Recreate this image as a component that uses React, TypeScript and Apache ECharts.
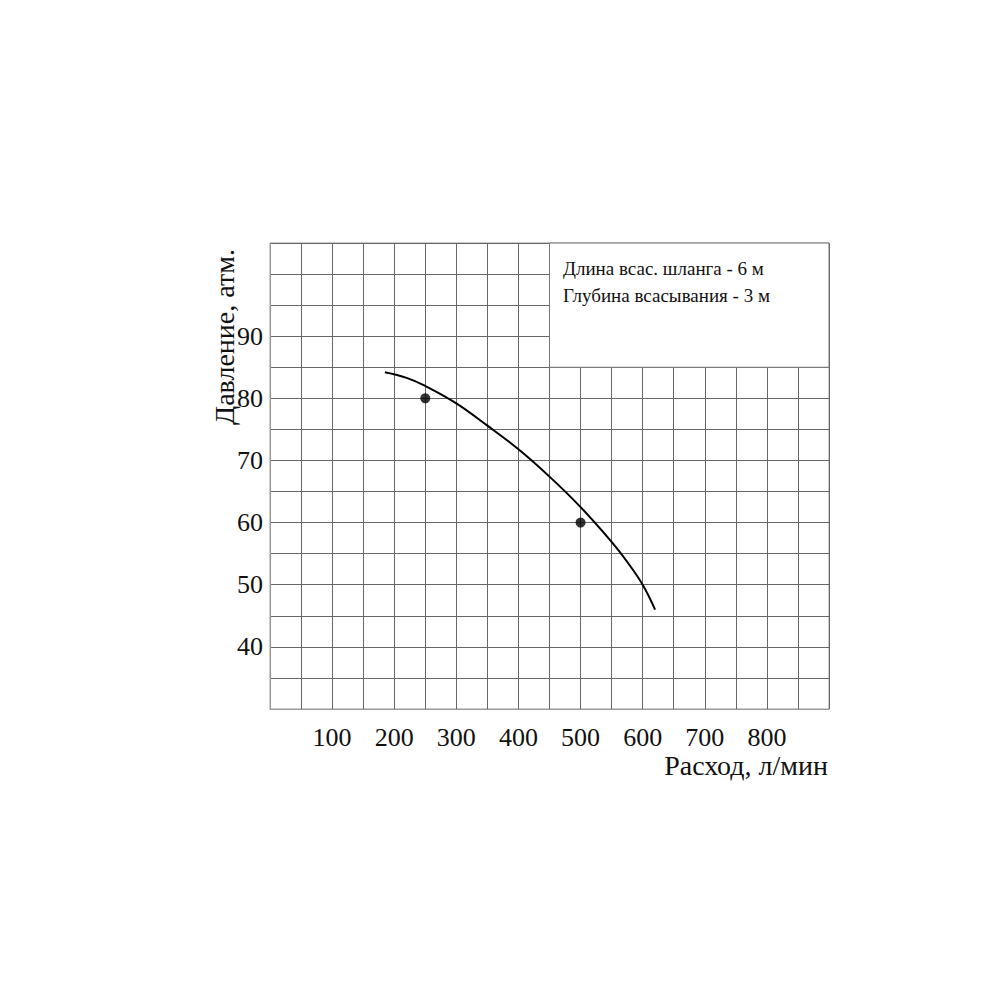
import React, { useEffect, useRef } from "react";
import * as echarts from "echarts";

const curveX = [185, 220, 250, 300, 350, 400, 450, 500, 550, 575, 600, 620];
const curveY = [84.2, 83.3, 82.0, 79.2, 75.6, 71.8, 67.4, 62.5, 56.9, 53.7, 50.0, 46.0];
const pointsX = [250, 500];
const pointsY = [80, 60];
const xTickLabels = [100, 200, 300, 400, 500, 600, 700, 800];
const yTickLabels = [40, 50, 60, 70, 80, 90];
const noteLines = ["Длина всас. шланга - 6 м", "Глубина всасывания - 3 м"];
const xName = "Расход, л/мин";
const yName = "Давление, атм.";
const boxArea = [[450, 85], [900, 105]];

const FONT = "'Liberation Serif', 'DejaVu Serif', serif";

export default function App() {
  const ref = useRef<HTMLDivElement>(null);
  useEffect(() => {
    if (!ref.current) return;
    const chart = echarts.init(ref.current, null, { renderer: "svg" });
    chart.setOption({
      animation: false,
      backgroundColor: "#fff",
      grid: {
        left: 270,
        top: 243,
        right: 171,
        bottom: 291,
        show: true,
        borderColor: "#999",
        borderWidth: 1,
      },
      xAxis: {
        type: "value",
        min: 0,
        max: 900,
        interval: 50,
        axisLine: { show: true, lineStyle: { color: "#999" } },
        axisTick: { show: false },
        splitLine: { show: true, lineStyle: { color: "#666", width: 1 } },
        axisLabel: {
          margin: 15,
          fontFamily: FONT,
          fontSize: 26,
          color: "#111",
          formatter: (v: number) => (xTickLabels.includes(v) ? String(v) : ""),
        },
      },
      yAxis: {
        type: "value",
        min: 30,
        max: 105,
        interval: 5,
        axisLine: { show: true, lineStyle: { color: "#999" } },
        axisTick: { show: false },
        splitLine: { show: true, lineStyle: { color: "#666", width: 1 } },
        axisLabel: {
          margin: 7,
          fontFamily: FONT,
          fontSize: 26,
          color: "#111",
          formatter: (v: number) => (yTickLabels.includes(v) ? String(v) : ""),
        },
      },
      series: [
        {
          type: "line",
          data: curveX.map((x, i) => [x, curveY[i]]),
          smooth: 0.4,
          showSymbol: false,
          lineStyle: { color: "#000", width: 2 },
          markArea: {
            silent: true,
            itemStyle: { color: "#fff", borderColor: "#777", borderWidth: 1 },
            label: { show: false },
            data: [[{ coord: boxArea[0] }, { coord: boxArea[1] }]],
          },
          z: 3,
        },
        {
          type: "scatter",
          data: pointsX.map((x, i) => [x, pointsY[i]]),
          symbol: "circle",
          symbolSize: 10,
          itemStyle: { color: "#000" },
          z: 4,
        },
      ],
      graphic: [
        {
          type: "text",
          x: 563,
          y: 268,
          style: {
            text: noteLines[0],
            fontFamily: FONT,
            fontSize: 19,
            fill: "#111",
            textAlign: "left",
            textVerticalAlign: "middle",
          },
          z: 10,
        },
        {
          type: "text",
          x: 563,
          y: 295,
          style: {
            text: noteLines[1],
            fontFamily: FONT,
            fontSize: 19,
            fill: "#111",
            textAlign: "left",
            textVerticalAlign: "middle",
          },
          z: 10,
        },
        {
          type: "text",
          x: 828,
          y: 765,
          style: {
            text: xName,
            fontFamily: FONT,
            fontSize: 28,
            fill: "#111",
            textAlign: "right",
            textVerticalAlign: "middle",
          },
        },
        {
          type: "text",
          x: 224,
          y: 337,
          rotation: Math.PI / 2,
          style: {
            text: yName,
            fontFamily: FONT,
            fontSize: 28,
            fill: "#111",
            textAlign: "center",
            textVerticalAlign: "middle",
          },
        },
      ],
    });
    return () => chart.dispose();
  }, []);
  return (
    <div
      ref={ref}
      style={{ position: "fixed", left: 0, top: 0, width: 1000, height: 1000 }}
    />
  );
}
